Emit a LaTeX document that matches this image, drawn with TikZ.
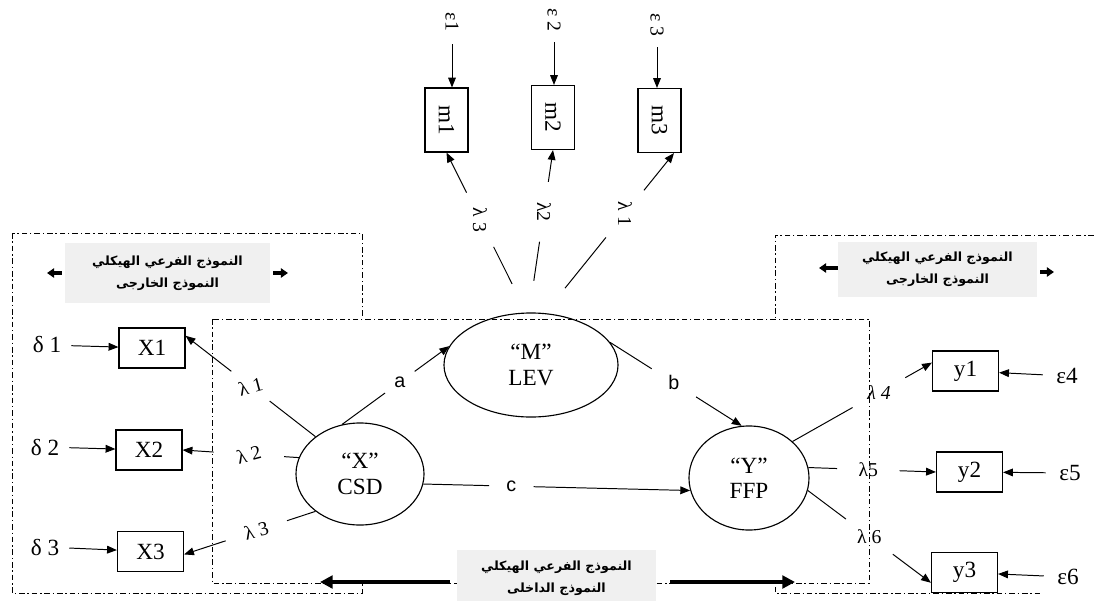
\documentclass[tikz,border=0pt]{standalone}
\usepackage{fontspec}
\setmainfont{Liberation Serif}
\newfontfamily\arabicfont[Script=Arabic]{DejaVu Sans}
\newfontfamily\abcfont{Liberation Sans}
\TeXXeTstate=1
\usetikzlibrary{arrows.meta,positioning,shapes}
\tikzset{
  dashdot/.style={line width=0.6pt,dash pattern=on 4pt off 2pt on 1pt off 2pt},
  obsbox/.style={draw,line width=0.8pt,minimum width=1.65cm,minimum height=1.0cm,
                 inner sep=0pt,font=\fontsize{16.5}{19}\selectfont},
  mbox/.style={draw,line width=0.8pt,minimum width=1.075cm,minimum height=1.6cm,
               inner sep=0pt,font=\fontsize{16.5}{19}\selectfont},
  latent/.style={draw,ellipse,line width=0.8pt,inner sep=0pt,align=center,
                 font=\fontsize{16.5}{18}\selectfont},
  errlbl/.style={circle,minimum size=1.2cm,inner sep=0pt,font=\fontsize{16.5}{19}\selectfont},
  toperr/.style={circle,minimum size=1.1cm,inner sep=0pt,rotate=-90,
                 font=\fontsize{14}{16}\selectfont},
  lamlbl/.style={circle,minimum size=1.5cm,inner sep=0pt,font=\fontsize{14}{16}\selectfont},
  pathlbl/.style={circle,inner sep=0pt,font=\abcfont\fontsize{14}{16}\selectfont},
  graylbl/.style={fill=black!6,inner sep=0pt,align=center,
                  font=\arabicfont\bfseries\fontsize{9}{15.5}\selectfont},
  conn/.style={line width=0.7pt},
  arr/.style={-{Triangle[length=7pt,width=5.5pt]},line width=0.7pt},
  bigarr/.style={-{Triangle[length=9pt,width=9pt]},line width=3pt},
  tinyarr/.style={-{Triangle[length=5pt,width=6.5pt]},line width=2.2pt}
}

\begin{document}
\begin{tikzpicture}[x=0.025cm,y=-0.025cm]
  \useasboundingbox (0,0) rectangle (1094,600);

  % frames of the sub-models
  \draw[dashdot] (12,233) rectangle (362,593);
  \draw[dashdot] (1094,235) -| (775,593) -- (1040,593);
  \draw[dashdot,fill=white] (212,319) rectangle (869,583);

  \node[graylbl,minimum width=5.125cm,minimum height=1.5cm] (exL) at (167.5,273)
    {\beginR النموذج الفرعي الهيكلي\endR\\\beginR النموذج الخارجى\endR};
  \node[graylbl,minimum width=4.975cm,minimum height=1.375cm] (exR) at (937.5,269.5)
    {\beginR النموذج الفرعي الهيكلي\endR\\\beginR النموذج الخارجى\endR};
  \node[graylbl,minimum width=4.975cm,minimum height=1.4cm] (inl) at (556.5,578)
    {\beginR النموذج الفرعي الهيكلي\endR\\\beginR النموذج الداخلى\endR};

  \coordinate (exLa) at (47,273);
  \coordinate (exLb) at (288,273);
  \coordinate (exRa) at (819,268);
  \coordinate (exRb) at (1054,272);
  \coordinate (inLa) at (320,582);
  \coordinate (inLb) at (795,582);
  \draw[tinyarr,shorten <=2pt] (exL.west) -- (exLa);
  \draw[tinyarr,shorten <=2pt] (exL.east) -- (exLb);
  \draw[tinyarr] (exR.west |- exRa) -- (exRa);
  \draw[tinyarr,shorten <=2pt] (exR.east |- exRb) -- (exRb);
  \draw[bigarr,shorten <=5pt] (inl.west |- inLa) -- (inLa);
  \draw[bigarr,shorten <=10pt] (inl.east |- inLb) -- (inLb);

  % latent variables
  \node[latent,minimum width=3.2cm,minimum height=2.55cm] (X) at (360,474) {“X”\\CSD};
  \node[latent,minimum width=4.35cm,minimum height=2.6cm] (M) at (531,365) {“M”\\LEV};
  \node[latent,minimum width=3.0cm,minimum height=2.6cm] (Y) at (749,478) {“Y”\\FFP};

  % indicators
  \node[obsbox] (X1) at (152,348) {X1};
  \node[obsbox] (X2) at (149,450) {X2};
  \node[obsbox] (X3) at (150.5,551.5) {X3};
  \node[obsbox] (y1) at (965.5,371) {y1};
  \node[obsbox] (y2) at (969.5,472) {y2};
  \node[obsbox] (y3) at (964.5,572.5) {y3};
  \node[mbox] (m1) at (446.5,120) {\rotatebox{-90}{m1}};
  \node[mbox] (m2) at (553,117.5) {\rotatebox{-90}{m2}};
  \node[mbox] (m3) at (659.5,120.5) {\rotatebox{-90}{m3}};

  % error terms
  \node[errlbl] (d1) at (47,345) {δ 1};
  \node[errlbl] (d2) at (45,447) {δ 2};
  \node[errlbl] (d3) at (45,547) {δ 3};
  \node[errlbl] (e4) at (1067,376) {ε4};
  \node[errlbl] (e5) at (1070,473) {ε5};
  \node[errlbl] (e6) at (1068,577) {ε6};
  \node[toperr] (e1) at (452,22) {ε1};
  \node[toperr] (e2) at (554,20) {ε 2};
  \node[toperr] (e3) at (657,25) {ε 3};

  \draw[arr] (d1) -- (X1);
  \draw[arr] (d2) -- (X2);
  \draw[arr] (d3) -- (X3);
  \draw[arr] (e4) -- (y1);
  \draw[arr] (e5) -- (y2);
  \draw[arr] (e6) -- (y3);
  \draw[arr] (e1) -- (e1 |- m1.north);
  \draw[arr] (e2) -- (e2 |- m2.north);
  \draw[arr] (e3) -- (e3 |- m3.north);

  % structural paths
  \path (X.110) -- (M.167) node[pathlbl,minimum size=0.9cm,pos=0.54] (pa) {a};
  \draw[conn] (X.110) -- (pa);
  \draw[arr] (pa) -- (M.167);
  \path (M.16) -- (Y.98) node[pathlbl,minimum size=1.3cm,pos=0.485] (pb) {b};
  \draw[conn] (M.16) -- (pb);
  \draw[arr] (pb) -- (Y.98);
  \path (X.-9) -- (Y.192) node[pathlbl,minimum size=1.1cm,pos=0.33] (pc) {c};
  \draw[conn] (X.-9) -- (pc);
  \draw[arr] (pc) -- (Y.192);

  % loadings
  \path (X.140) -- (X1.20) node[lamlbl,minimum size=1.2cm,pos=0.5,rotate=15] (lx1) {λ 1};
  \draw[conn] (X.140) -- (lx1);
  \draw[arr] (lx1) -- (X1.20);
  \path (X.165) -- (X2.east) node[lamlbl,minimum size=1.75cm,pos=0.43,rotate=15] (lx2) {λ 2};
  \draw[conn] (X.165) -- (lx2);
  \draw[arr] (lx2) -- (X2.east);
  \path (X.220) -- (X3.-5) node[lamlbl,minimum size=1.6cm,pos=0.45,rotate=15] (lx3) {λ 3};
  \draw[conn] (X.220) -- (lx3);
  \draw[arr] (lx3) -- (X3.-5);

  \path (Y.40) -- (y1.166) node[lamlbl,pos=0.62] (ly4) {\itshape λ 4};
  \draw[conn] (Y.40) -- (ly4);
  \draw[arr] (ly4) -- (y1.166);
  \path (Y.10) -- (y2.west) node[lamlbl,minimum size=1.55cm,pos=0.47] (ly5) {λ5};
  \draw[conn] (Y.10) -- (ly5);
  \draw[arr] (ly5) -- (y2.west);
  \path (Y.-12) -- (y3.197) node[lamlbl,minimum size=1.45cm,pos=0.5] (ly6) {λ 6};
  \draw[conn] (Y.-12) -- (ly6);
  \draw[arr] (ly6) -- (y3.197);

  \path (M.95) -- (m1.south) node[lamlbl,rotate=-90,pos=0.58] (lm3) {λ 3};
  \draw[conn,shorten <=0.8cm] (M.95) -- (lm3);
  \draw[arr] (lm3) -- (m1.south);
  \path (M.92) -- (m2.south) node[lamlbl,rotate=-90,pos=0.62] (lm2) {λ2};
  \draw[conn,shorten <=0.8cm] (M.92) -- (lm2);
  \draw[arr] (lm2) -- (m2.south);
  \path (M.75) -- (m3.-66) node[lamlbl,rotate=-90,pos=0.62] (lm1) {λ 1};
  \draw[conn,shorten <=0.8cm] (M.75) -- (lm1);
  \draw[arr] (lm1) -- (m3.-66);
\end{tikzpicture}
\end{document}
